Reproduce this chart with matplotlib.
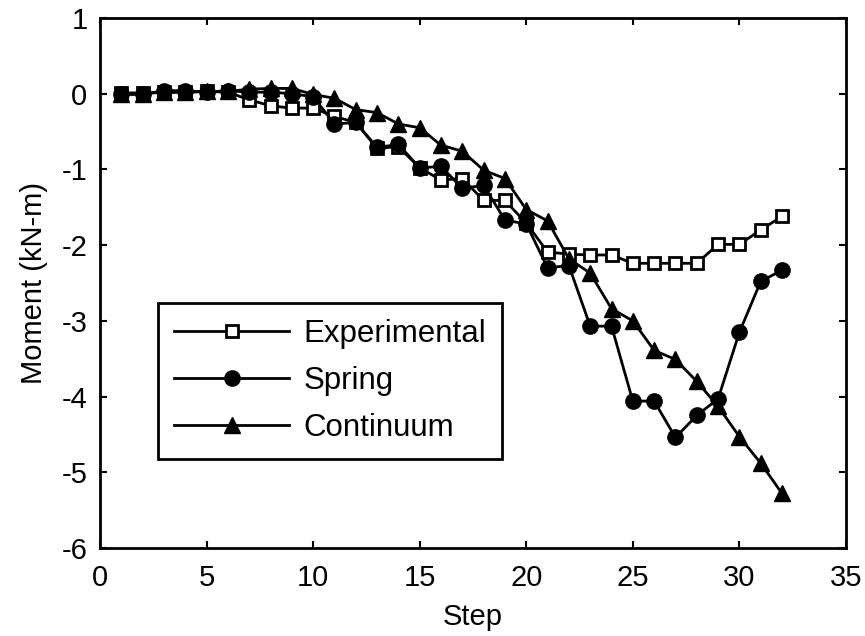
import matplotlib
matplotlib.use("Agg")
import matplotlib.pyplot as plt

plt.rcParams['font.family'] = ['Liberation Sans', 'DejaVu Sans']
plt.rcParams['axes.unicode_minus'] = False

steps = list(range(1, 33))

experimental = [0.01, 0.01, 0.02, 0.02, 0.03, 0.02, -0.08, -0.16, -0.19, -0.19,
                -0.30, -0.38, -0.72, -0.70, -0.98, -1.14, -1.12, -1.41, -1.41, -1.71,
                -2.09, -2.12, -2.13, -2.13, -2.24, -2.24, -2.24, -2.24, -1.99, -1.99,
                -1.80, -1.62]

spring = [-0.01, -0.01, 0.04, 0.04, 0.02, 0.04, 0.02, 0.02, 0.0, -0.04,
          -0.40, -0.38, -0.71, -0.67, -0.98, -0.96, -1.25, -1.21, -1.67, -1.72,
          -2.30, -2.27, -3.07, -3.07, -4.06, -4.06, -4.54, -4.25, -4.03, -3.15,
          -2.48, -2.33]

continuum = [0.0, 0.0, 0.02, 0.02, 0.03, 0.03, 0.06, 0.07, 0.07, -0.01,
             -0.06, -0.21, -0.25, -0.40, -0.45, -0.68, -0.76, -1.01, -1.12, -1.53,
             -1.68, -2.18, -2.37, -2.84, -3.00, -3.39, -3.51, -3.80, -4.13, -4.53,
             -4.88, -5.28]

fig = plt.figure(figsize=(8.65, 6.36), dpi=100)
ax = fig.add_axes([0.1156, 0.1384, 0.8624, 0.8333])

l_exp, = ax.plot(steps, experimental, color='black', linewidth=2.0, marker='s',
                 markersize=8, markerfacecolor='white', markeredgewidth=2.0,
                 label='Experimental', zorder=2)
l_con, = ax.plot(steps, continuum, color='black', linewidth=2.0, marker='^',
                 markersize=12, label='Continuum', zorder=3)
l_spr, = ax.plot(steps, spring, color='black', linewidth=2.0, marker='o',
                 markersize=11, label='Spring', zorder=4)

ax.set_xlim(0, 35)
ax.set_ylim(-6, 1)
ax.set_xticks(range(0, 36, 5))
ax.set_yticks(range(-6, 2))
ax.set_xlabel('Step', fontsize=21, labelpad=8)
ax.set_ylabel('Moment (kN-m)', fontsize=21, labelpad=10)
ax.tick_params(direction='in', top=True, right=True, labelsize=21,
               length=5, width=1.5)
ax.tick_params(axis='x', pad=11.5)
ax.tick_params(axis='y', pad=9)
for sp in ax.spines.values():
    sp.set_linewidth(2.0)

leg = ax.legend([l_exp, l_spr, l_con], ['Experimental', 'Spring', 'Continuum'],
                loc='upper left', bbox_to_anchor=(0.078, 0.462),
                borderaxespad=0, fontsize=22.5, handlelength=3.7,
                handletextpad=0.45, borderpad=0.5, labelspacing=0.55,
                fancybox=False, framealpha=1, edgecolor='black')
leg.get_frame().set_linewidth(2.0)

fig.savefig('out.png', dpi=100)
